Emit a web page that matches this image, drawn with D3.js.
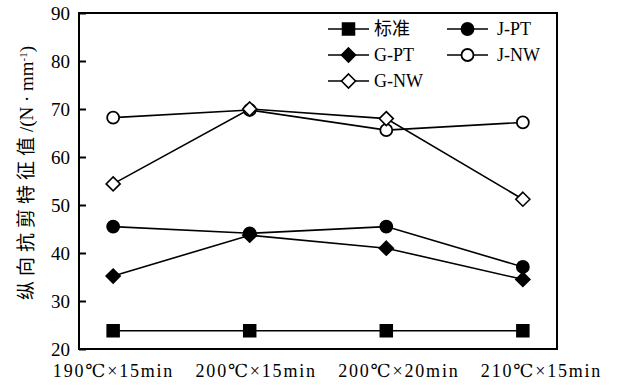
<!DOCTYPE html>
<html>
<head>
<meta charset="utf-8">
<script src="https://cdn.jsdelivr.net/npm/d3@7"></script>
<style>
    body { margin: 0; background: #fff; }
    svg text { font-family: "Liberation Serif", "DejaVu Serif", "Noto Sans CJK SC", serif; fill: #000; }
</style>
</head>
<body>
<svg id="chart"></svg>
<script>
// Chart data
const categories = ['190℃×15min', '200℃×15min', '200℃×20min', '210℃×15min'];
const standard = [23.8, 23.8, 23.8, 23.8];
const jPT = [45.5, 44.1, 45.5, 37.1];
const gPT = [35.2, 43.7, 41.0, 34.5];
const jNW = [68.2, 69.8, 65.6, 67.2];
const gNW = [54.4, 70.0, 68.0, 51.2];
const yTicks = [20, 30, 40, 50, 60, 70, 80, 90];

const seriesList = [
    { name: '标准', values: standard, shape: 'square', fill: '#000' },
    { name: 'J-PT', values: jPT, shape: 'circle', fill: '#000' },
    { name: 'G-PT', values: gPT, shape: 'diamond', fill: '#000' },
    { name: 'J-NW', values: jNW, shape: 'circle', fill: '#fff' },
    { name: 'G-NW', values: gNW, shape: 'diamond', fill: '#fff' }
];

const config = {
    containerWidth: 617,
    containerHeight: 386,
    margin: { top: 13, right: 60, bottom: 37, left: 79 }
};

const width = config.containerWidth - config.margin.left - config.margin.right;
const height = config.containerHeight - config.margin.top - config.margin.bottom;

const svg = d3.select('#chart')
    .attr('width', config.containerWidth)
    .attr('height', config.containerHeight);

const chartArea = svg.append('g')
    .attr('transform', `translate(${config.margin.left},${config.margin.top})`);

const xScale = d3.scalePoint()
    .domain(categories)
    .range([0, width])
    .padding(0.25);

// labels sit a little wider than the points in the original
const labelScale = d3.scalePoint()
    .domain(categories)
    .range([34, width - 16]);

const yScale = d3.scaleLinear()
    .domain([20, 90])
    .range([height, 0]);

// Y axis with inward ticks
const yAxis = d3.axisLeft(yScale)
    .tickValues(yTicks)
    .tickSize(-7)
    .tickPadding(9)
    .tickFormat(d3.format('d'));

const yAxisG = chartArea.append('g')
    .call(yAxis)
    .attr('font-family', null);
yAxisG.select('.domain').remove();
yAxisG.selectAll('line').attr('stroke', '#000').attr('stroke-width', 2);
yAxisG.selectAll('text')
    .attr('font-size', 19)
    .attr('dy', '0.33em');

// X labels
const xAxis = d3.axisBottom(labelScale)
    .tickSize(0)
    .tickPadding(15);
const xAxisG = chartArea.append('g')
    .attr('transform', `translate(0,${height})`)
    .call(xAxis)
    .attr('font-family', null);
xAxisG.select('.domain').remove();
xAxisG.selectAll('text')
    .attr('font-size', 18)
    .attr('letter-spacing', 1.8);

// Frame
chartArea.append('rect')
    .attr('width', width)
    .attr('height', height)
    .attr('fill', 'none')
    .attr('stroke', '#000')
    .attr('stroke-width', 2);

// Y axis title
svg.append('text')
    .attr('transform', `translate(33,${config.margin.top + 160}) rotate(-90)`)
    .attr('text-anchor', 'middle')
    .attr('font-size', 19)
    .html('<tspan letter-spacing="5">纵向抗剪特征值</tspan>/(N · mm<tspan baseline-shift="super" font-size="11">-1</tspan>)');

const line = d3.line()
    .x((d, i) => xScale(categories[i]))
    .y(d => yScale(d));

function drawMarker(g, shape, fill) {
    if (shape === 'square') {
        g.append('rect').attr('x', -6).attr('y', -6).attr('width', 12).attr('height', 12)
            .attr('fill', fill).attr('stroke', '#000').attr('stroke-width', 1.5);
    } else if (shape === 'circle') {
        g.append('circle').attr('r', 6)
            .attr('fill', fill).attr('stroke', '#000').attr('stroke-width', 1.8);
    } else {
        g.append('path').attr('d', 'M0,-7L7,0L0,7L-7,0Z')
            .attr('fill', fill).attr('stroke', '#000').attr('stroke-width', 1.6);
    }
}

// Series lines and markers
seriesList.forEach(s => {
    chartArea.append('path')
        .datum(s.values)
        .attr('d', line)
        .attr('fill', 'none')
        .attr('stroke', '#000')
        .attr('stroke-width', 1.6);
});
seriesList.forEach(s => {
    s.values.forEach((v, i) => {
        const g = chartArea.append('g')
            .attr('transform', `translate(${xScale(categories[i])},${yScale(v)})`);
        drawMarker(g, s.shape, s.fill);
    });
});

// Legend
const legendCols = [249, 368];
const legendRows = [16, 42, 68];
seriesList.forEach((s, i) => {
    const col = i % 2, row = Math.floor(i / 2);
    const g = chartArea.append('g')
        .attr('transform', `translate(${legendCols[col]},${legendRows[row]})`);
    g.append('line').attr('x1', 0).attr('x2', 41)
        .attr('stroke', '#000').attr('stroke-width', 1.6);
    const m = g.append('g').attr('transform', 'translate(20.5,0)');
    drawMarker(m, s.shape, s.fill);
    g.append('text')
        .attr('x', col === 0 ? 46 : 50)
        .attr('dy', '0.35em')
        .attr('font-size', 18)
        .text(s.name);
});
</script>
</body>
</html>
